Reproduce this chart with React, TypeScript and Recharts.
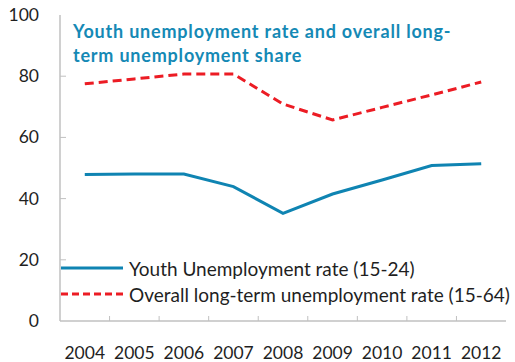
import React from "react";
import { LineChart, Line, XAxis, YAxis } from "recharts";

const YEARS = ["2004", "2005", "2006", "2007", "2008", "2009", "2010", "2011", "2012"];
const YOUTH = [47.9, 48, 48, 43.9, 35.2, 41.5, 46.1, 50.8, 51.4];
const LONG_TERM = [77.5, 79.1, 80.7, 80.7, 70.9, 65.7, 69.8, 73.9, 78.1];
const Y_TICKS = [0, 20, 40, 60, 80, 100];

const BLUE = "#0f84b2";
const RED = "#ec1c24";
const GRID = "#c0c0c0";
const FONT = "Lato, 'Open Sans', sans-serif";

const W = 515;
const H = 362;
const M = { top: 15, right: 9, left: 0, bottom: 0 };
const Y_W = 60;
const X_H = 41;
const BAND = (W - M.right - Y_W) / YEARS.length;

const data = YEARS.map((year, i) => ({ year, youth: YOUTH[i], longTerm: LONG_TERM[i] }));

function XTick(props: any) {
  const { x, y, payload, index } = props;
  return (
    <g>
      {index > 0 && <line x1={x - BAND / 2} x2={x - BAND / 2} y1={y - 8} y2={y - 13} stroke={GRID} strokeWidth={1} />}
      <text x={x} y={y + 30} textAnchor="middle" fontSize={17.5} fill="#1f1f1f" fontFamily={FONT}>
        {payload.value}
      </text>
    </g>
  );
}

function YTick(props: any) {
  const { y, payload } = props;
  return (
    <g>
      {payload.value > 0 && payload.value < 100 && (
        <line x1={Y_W} x2={Y_W + 6} y1={y} y2={y} stroke={GRID} strokeWidth={1} />
      )}
      <text x={39} y={y + 6} textAnchor="end" fontSize={17.5} fill="#1f1f1f" fontFamily={FONT}>
        {payload.value}
      </text>
    </g>
  );
}

const LEGEND = [
  { label: "Youth Unemployment rate (15-24)", color: BLUE, dash: undefined },
  { label: "Overall long-term unemployment rate (15-64)", color: RED, dash: "7 4" },
];

export default function App() {
  return (
    <div style={{ position: "absolute", left: 0, top: 0, width: W, height: H, background: "#fff" }}>
      <LineChart width={W} height={H} data={data} margin={M}>
        <XAxis
          xAxisId="bottom"
          dataKey="year"
          scale="band"
          height={X_H}
          axisLine={{ stroke: GRID, strokeWidth: 1.5 }}
          tickLine={false}
          tick={<XTick />}
          interval={0}
        />
        <XAxis xAxisId="top" orientation="top" dataKey="year" height={0} axisLine={{ stroke: GRID, strokeWidth: 1.5 }} tick={false} tickLine={false} />
        <YAxis
          yAxisId="left"
          domain={[0, 100]}
          ticks={Y_TICKS}
          width={Y_W}
          axisLine={{ stroke: GRID, strokeWidth: 1.5 }}
          tickLine={false}
          tick={<YTick />}
        />
        <YAxis yAxisId="right" orientation="right" domain={[0, 100]} width={0} axisLine={{ stroke: GRID, strokeWidth: 1.5 }} tick={false} tickLine={false} />
        <Line
          xAxisId="bottom"
          yAxisId="left"
          dataKey="youth"
          stroke={BLUE}
          strokeWidth={3}
          dot={false}
          isAnimationActive={false}
        />
        <Line
          xAxisId="bottom"
          yAxisId="left"
          dataKey="longTerm"
          stroke={RED}
          strokeWidth={3}
          strokeDasharray="9 5"
          dot={false}
          isAnimationActive={false}
        />
      </LineChart>
      {/* legend drawn inside the plot box, lower left */}
      <div style={{ position: "absolute", left: 60, top: 255, fontFamily: FONT, fontSize: 19, color: "#1f1f1f" }}>
        {LEGEND.map((item) => (
          <div key={item.label} style={{ display: "flex", alignItems: "center", height: 26 }}>
            <svg width={64} height={10} style={{ marginRight: 5 }}>
              <line x1={1} x2={63} y1={5} y2={5} stroke={item.color} strokeWidth={3} strokeDasharray={item.dash} />
            </svg>
            <span style={{ whiteSpace: "nowrap" }}>{item.label}</span>
          </div>
        ))}
      </div>
      {/* title sits inside the plot box */}
      <div
        style={{
          position: "absolute",
          left: 73,
          top: 19,
          fontFamily: FONT,
          fontWeight: 700,
          fontSize: 18,
          letterSpacing: 0.8,
          lineHeight: "24px",
          color: "#1589b5",
          whiteSpace: "nowrap",
        }}
      >
        Youth unemployment rate and overall long-
        <br />
        term unemployment share
      </div>
    </div>
  );
}
